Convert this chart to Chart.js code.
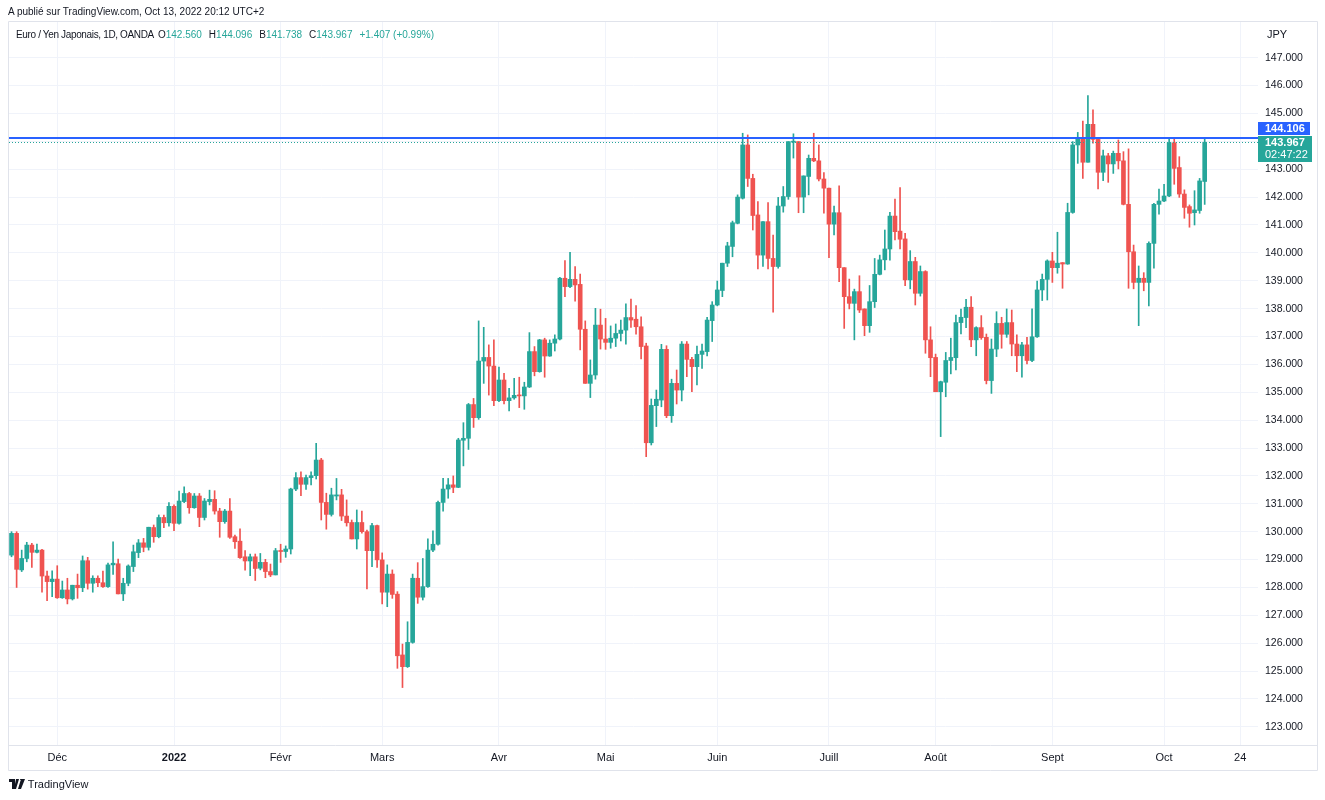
<!DOCTYPE html>
<html>
<head>
<meta charset="utf-8">
<script src="https://cdn.jsdelivr.net/npm/chart.js@4.4.0/dist/chart.umd.min.js"></script>
<style>
  body { margin: 0; background: #fff; font-family: 'Liberation Sans', Arial, sans-serif; color: #131722; }
  #wrap { position: relative; width: 1325px; height: 800px; overflow: hidden; }
  canvas { position: absolute; left: 0; top: 0; }
  .t { position: absolute; font-size: 10px; white-space: nowrap; line-height: 14px; }
  .g { color: #26a69a; }
  .v { margin-left: 7px; }
</style>
</head>
<body>
<div id="wrap">
  <canvas id="c" width="1325" height="800"></canvas>
  <div class="t" style="left:8px;top:5px;">A publié sur TradingView.com, Oct 13, 2022 20:12 UTC+2</div>
  <div class="t" style="left:16px;top:28px;"><span style="letter-spacing:-0.35px">Euro / Yen Japonais, 1D, OANDA</span><span style="margin-left:4px">O<span class="g">142.560</span></span><span class="v">H<span class="g">144.096</span></span><span class="v">B<span class="g">141.738</span></span><span class="v">C<span class="g">143.967</span></span><span class="v g">+1.407 (+0.99%)</span></div>
  <div class="t" style="left:1267px;top:27px;font-size:11px;">JPY</div>
  <div class="t" style="left:9px;top:777px;font-size:11px;">
    <svg width="16" height="10" viewBox="0 0 16 10" style="vertical-align:-1px"><path d="M0 0h6v10H3V3H0z M7 0h3l-3 10H5z M11 0a2 2 0 1 1 0 .1z M12 0h4l-4 10h-3z" fill="#131722"/></svg> TradingView
  </div>
</div>
<script>
// EUR/JPY daily, OANDA, Nov 18 2021 -> Oct 13 2022
var opens = [129.16,129.94,128.63,129.04,129.52,129.26,129.34,128.41,128.21,128.30,127.63,127.91,127.59,128.08,127.99,128.96,128.15,128.33,128.17,128.03,
  128.81,128.85,127.77,128.15,128.75,129.25,129.60,129.44,130.15,129.82,130.51,130.32,130.91,130.30,131.08,131.37,130.86,131.28,130.51,131.08,
  131.16,130.74,130.36,130.74,129.82,129.66,129.10,128.95,129.10,128.69,128.90,128.57,128.45,129.32,129.29,129.38,131.53,131.94,131.70,131.94,
  132.01,132.57,131.05,130.62,131.28,131.32,130.56,130.33,129.74,130.33,130.00,129.32,130.22,128.99,127.83,128.48,127.76,125.58,125.16,126.03,
  128.33,127.65,128.03,129.34,129.55,131.05,131.53,131.68,131.59,133.28,133.35,134.56,134.09,136.12,136.25,135.94,134.70,135.44,134.70,134.80,
  134.90,134.87,135.19,136.46,135.74,136.88,136.30,136.76,136.91,139.09,138.79,139.05,138.87,137.26,135.32,135.62,137.41,136.91,136.79,136.94,
  137.11,137.23,137.68,137.62,137.35,136.66,133.19,134.52,134.72,136.54,134.16,135.32,135.08,136.73,136.18,135.92,136.36,136.46,137.57,138.13,
  138.65,139.63,140.23,141.06,141.96,143.87,142.67,141.36,139.92,141.12,139.80,139.51,141.68,142.02,143.97,143.99,142.00,142.74,143.39,143.30,
  142.65,142.32,141.03,141.44,139.47,138.43,138.19,138.61,137.99,137.39,138.25,139.23,139.75,140.14,141.32,140.78,140.50,139.03,139.69,138.55,
  139.33,136.88,136.25,135.02,135.36,136.14,136.24,137.50,137.68,138.05,136.88,137.32,136.97,135.42,136.55,137.47,137.08,137.50,136.73,136.31,
  136.70,136.14,136.99,138.67,139.05,139.71,139.47,139.65,139.60,141.45,143.87,144.11,143.25,144.61,144.07,142.89,143.48,143.19,143.57,143.30,
  141.74,140.04,138.94,139.09,138.94,140.34,141.74,141.86,142.04,143.95,143.06,142.11,141.66,141.44,141.52,142.560];
var highs = [130.00,130.00,129.34,129.62,129.58,129.56,129.37,128.59,128.60,128.78,128.23,128.33,128.08,128.48,129.13,129.08,128.42,128.42,128.59,128.87,
  129.64,129.02,128.33,128.81,129.52,129.72,129.76,130.16,130.24,130.60,130.60,131.04,130.96,131.46,131.61,131.41,131.37,131.37,131.19,131.49,
  131.47,130.84,130.80,131.19,129.88,130.10,129.32,129.20,129.20,129.22,129.01,128.84,129.40,129.55,129.49,131.56,132.12,132.15,132.03,132.15,
  133.17,132.63,131.38,131.56,131.91,131.52,131.14,130.42,130.78,130.74,130.06,130.30,130.24,129.24,128.81,128.63,127.85,125.97,126.77,128.48,
  128.89,129.04,129.74,130.03,131.10,131.91,131.91,132.00,133.35,133.91,134.60,134.78,137.56,137.33,136.70,136.88,135.90,135.68,135.14,135.50,
  135.54,135.36,137.14,136.64,136.90,136.94,136.88,137.06,139.12,139.72,140.02,139.51,139.24,137.56,136.16,138.01,137.98,137.65,137.38,137.45,
  137.59,138.17,138.34,138.11,137.71,136.76,134.76,135.08,136.72,136.67,135.47,135.80,136.82,136.82,136.25,136.66,136.73,137.69,138.25,138.99,
  139.63,140.38,141.14,142.08,144.29,144.23,142.82,141.84,141.12,141.80,140.64,141.99,142.38,143.99,144.27,143.99,142.76,143.51,144.29,143.87,
  142.88,142.32,141.68,142.40,139.47,139.06,138.70,139.18,137.99,138.83,139.80,139.92,140.82,141.45,141.93,142.34,140.70,140.08,139.84,139.53,
  139.36,137.35,136.37,135.40,136.43,136.94,137.77,137.98,138.33,138.43,137.35,137.75,137.09,136.91,137.89,137.69,137.99,137.95,137.06,136.79,
  136.97,137.99,138.99,139.24,139.75,140.02,140.74,139.65,141.78,143.99,144.32,144.73,145.64,145.13,144.11,143.69,143.57,143.65,144.05,143.63,
  143.73,140.28,139.53,139.29,140.40,141.78,142.29,142.46,144.11,144.11,143.45,142.26,141.72,142.23,142.67,144.096];
var lows = [129.10,128.00,128.57,128.92,128.72,129.24,127.83,127.53,127.67,127.61,127.61,127.41,127.55,127.61,127.85,127.94,127.83,128.03,128.00,128.00,
  128.47,127.77,127.53,128.06,128.57,129.07,129.28,129.34,129.62,129.78,130.14,130.20,130.04,130.27,131.04,130.66,130.84,130.18,130.42,130.96,
  130.63,129.80,130.30,129.76,129.40,129.04,128.62,128.42,128.25,128.63,128.35,128.39,128.45,128.90,129.08,129.20,131.47,131.29,131.52,131.68,
  131.89,130.42,130.09,130.56,131.14,130.40,130.20,129.74,129.38,129.95,127.95,128.75,128.72,127.41,127.31,127.61,125.10,124.41,125.13,126.00,
  127.43,127.55,128.00,129.28,129.52,130.74,131.20,131.40,131.58,132.36,132.95,133.74,134.03,135.32,134.90,134.52,134.66,134.58,134.33,134.75,
  134.45,134.39,135.17,135.59,135.72,135.54,136.29,136.48,136.88,138.43,138.75,138.27,136.52,135.32,134.81,135.47,136.55,136.54,136.58,136.64,
  136.84,136.73,137.33,137.08,136.20,132.69,133.11,133.77,134.48,134.09,133.92,134.58,134.69,135.56,135.02,135.26,135.86,136.30,136.82,138.10,
  138.43,139.51,139.86,141.04,141.93,142.38,140.82,139.42,139.51,139.42,137.87,139.45,141.46,141.92,143.40,141.44,141.44,142.08,143.27,142.58,
  141.42,139.83,140.64,138.97,137.29,137.99,136.88,137.86,137.03,137.15,138.04,139.21,139.39,139.74,140.46,140.14,138.82,138.71,138.13,138.45,
  136.40,135.56,135.02,133.41,134.84,135.66,135.80,137.09,137.32,136.64,136.31,136.90,135.30,134.96,136.28,136.58,136.97,136.31,135.74,135.54,
  136.02,136.10,136.97,138.29,138.31,138.94,139.27,138.73,139.59,141.42,143.21,142.67,143.25,143.93,142.29,142.59,142.53,142.85,143.01,141.72,
  138.73,138.71,137.39,138.64,138.10,139.45,141.39,141.84,142.02,142.46,141.99,141.24,140.92,141.00,141.42,141.738];
var closes = [129.94,128.65,129.04,129.52,129.26,129.34,128.41,128.21,128.30,127.63,127.91,127.59,128.08,127.99,128.96,128.15,128.33,128.17,128.03,128.81,
  128.87,127.77,128.15,128.77,129.28,129.60,129.44,130.16,129.82,130.51,130.32,130.91,130.30,131.10,131.37,130.86,131.28,130.51,131.10,131.16,
  130.74,130.36,130.74,129.80,129.64,129.07,128.95,129.10,128.68,128.90,128.57,128.45,129.32,129.29,129.38,131.53,131.94,131.70,131.94,132.01,
  132.57,131.05,130.62,131.32,131.32,130.56,130.32,129.74,130.33,130.00,129.32,130.22,128.99,127.83,128.48,127.75,125.55,125.16,126.03,128.33,
  127.65,128.03,129.34,129.55,131.05,131.53,131.68,131.59,133.29,133.35,134.56,134.09,136.12,136.25,135.94,134.70,135.44,134.70,134.80,134.89,
  134.87,135.19,136.46,135.74,136.88,136.30,136.76,136.91,139.09,138.79,139.05,138.85,137.26,135.32,135.62,137.41,136.91,136.79,136.94,137.11,
  137.23,137.68,137.59,137.35,136.64,133.19,134.53,134.75,136.54,134.16,135.32,135.08,136.73,136.18,135.92,136.36,136.48,137.59,138.13,138.67,
  139.63,140.25,141.08,142.00,143.87,142.67,141.34,139.92,141.12,139.80,139.51,141.68,142.02,143.99,144.00,142.00,142.76,143.39,143.30,142.65,
  142.32,141.03,141.44,139.47,138.43,138.19,138.61,137.95,137.39,138.25,139.23,139.75,140.14,141.32,140.76,140.49,139.03,139.69,138.55,139.33,
  136.88,136.24,135.02,135.38,136.14,136.25,137.50,137.69,138.05,136.88,137.32,136.96,135.42,136.55,137.47,137.08,137.50,136.73,136.31,136.70,
  136.14,136.99,138.67,139.05,139.71,139.47,139.63,139.60,141.45,143.87,144.11,143.25,144.61,144.07,142.89,143.48,143.19,143.57,143.30,141.74,
  140.04,138.94,139.09,138.94,140.34,141.74,141.86,142.04,143.95,143.03,142.11,141.63,141.42,141.54,142.58,143.967];

var yTicks = [123,124,125,126,127,128,129,130,131,132,133,134,135,136,137,138,139,140,141,142,143,144,145,146,147];
var xTickIdx = [9, 32, 53, 73, 96, 117, 139, 161, 182, 205, 227, 242];
var xTickText = ['Déc', '2022', 'Févr', 'Mars', 'Avr', 'Mai', 'Juin', 'Juill', 'Août', 'Sept', 'Oct', '24'];
var lineLevel = 144.106;
var lastClose = 143.967;
var countdown = '02:47:22';

var UP = '#26a69a', DOWN = '#ef5350';
var FONT = "'Liberation Sans', Arial, sans-serif";

// trading days (Mon-Fri), plus empty days on the right
var nSlots = 246;
var labels = [];
var d = new Date(Date.UTC(2021, 10, 18));
while (labels.length < nSlots) {
  var wd = d.getUTCDay();
  if (wd > 0 && wd < 6) labels.push(d.toISOString().slice(0, 10));
  d.setUTCDate(d.getUTCDate() + 1);
}

var colors = opens.map(function(o, i) { return closes[i] >= o ? UP : DOWN; });

var frame = {
  id: 'frame',
  afterDraw: function(chart) {
    var ctx = chart.ctx, a = chart.chartArea, y = chart.scales.y;
    ctx.save();
    // pane borders
    ctx.strokeStyle = '#e0e3eb';
    ctx.lineWidth = 1;
    ctx.beginPath();
    ctx.moveTo(8.5, 21.5); ctx.lineTo(1317.5, 21.5);
    ctx.moveTo(8.5, 21.5); ctx.lineTo(8.5, 770.5);
    ctx.moveTo(1317.5, 21.5); ctx.lineTo(1317.5, 770.5);
    ctx.moveTo(8.5, a.bottom + 0.5); ctx.lineTo(1317.5, a.bottom + 0.5);
    ctx.moveTo(8.5, 770.5); ctx.lineTo(1317.5, 770.5);
    ctx.stroke();

    // horizontal line and last price line
    var yb = Math.round(y.getPixelForValue(lineLevel));
    var yc = Math.round(y.getPixelForValue(lastClose)) + 0.5;
    ctx.strokeStyle = UP;
    ctx.setLineDash([1, 2]);
    ctx.beginPath(); ctx.moveTo(a.left, yc); ctx.lineTo(a.right, yc); ctx.stroke();
    ctx.setLineDash([]);
    ctx.strokeStyle = '#2962ff';
    ctx.lineWidth = 2;
    ctx.beginPath(); ctx.moveTo(a.left, yb); ctx.lineTo(a.right, yb); ctx.stroke();

    // axis tags
    var gx = a.right;
    var gTop = Math.round(yc - 7);
    ctx.fillStyle = UP;
    ctx.fillRect(gx, gTop, 54, 26);
    ctx.fillStyle = '#2962ff';
    ctx.fillRect(gx, gTop - 14, 52, 13);
    ctx.fillStyle = '#fff';
    ctx.font = 'bold 11px ' + FONT;
    ctx.textBaseline = 'middle';
    ctx.textAlign = 'left';
    ctx.fillText(lineLevel.toFixed(3), gx + 7, gTop - 7);
    ctx.fillText(lastClose.toFixed(3), gx + 7, gTop + 7);
    ctx.font = '11px ' + FONT;
    ctx.fillText(countdown, gx + 7, gTop + 19);
    ctx.restore();
  }
};

new Chart(document.getElementById('c'), {
  type: 'bar',
  data: {
    labels: labels,
    datasets: [
      { data: lows.map(function(l, i) { return [l, highs[i]]; }), backgroundColor: colors, barThickness: 1, grouped: false, order: 2 },
      { data: opens.map(function(o, i) { return [o, closes[i]]; }), backgroundColor: colors, barThickness: 4, minBarLength: 1, grouped: false, order: 1 }
    ]
  },
  options: {
    responsive: false, animation: false, devicePixelRatio: 1,
    layout: { padding: { left: 9, right: 8, top: 22, bottom: 30 } },
    plugins: { legend: { display: false }, tooltip: { enabled: false } },
    scales: {
      x: {
        type: 'category', offset: true,
        grid: { color: '#f0f3fa', offset: false, drawTicks: false },
        border: { display: false },
        afterBuildTicks: function(s) { s.ticks = s.ticks.filter(function(t) { return xTickIdx.indexOf(t.value) >= 0; }); },
        afterFit: function(s) { s.height = 25; },
        ticks: {
          autoSkip: false, maxRotation: 0, padding: 6, color: '#131722',
          font: function(ctx) {
            var lab = ctx.tick ? xTickText[xTickIdx.indexOf(ctx.tick.value)] : '';
            return { family: FONT, size: 11, weight: lab === '2022' ? 'bold' : 'normal' };
          },
          callback: function(v) { return xTickText[xTickIdx.indexOf(v)]; }
        }
      },
      y: {
        position: 'right', min: 122.35, max: 148.28,
        grid: { color: '#f0f3fa', drawTicks: false },
        border: { display: false },
        afterBuildTicks: function(s) { s.ticks = yTicks.map(function(v) { return { value: v }; }); },
        afterFit: function(s) { s.width = 59; },
        ticks: { padding: 7, color: '#131722', font: { family: FONT, size: 10.5 }, callback: function(v) { return v.toFixed(3); } }
      }
    }
  },
  plugins: [frame]
});
</script>
</body>
</html>
